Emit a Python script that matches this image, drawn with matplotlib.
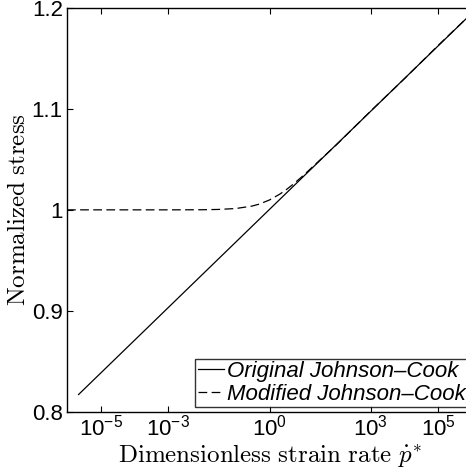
import matplotlib
matplotlib.use("Agg")
import matplotlib.pyplot as plt
import numpy as np

plt.rcParams["font.family"] = ["Liberation Sans", "DejaVu Sans"]
plt.rcParams["mathtext.fontset"] = "custom"
plt.rcParams["mathtext.rm"] = "Liberation Sans"
plt.rcParams["mathtext.it"] = "Liberation Sans:italic"

# data
p_orig = [2.2e-6, 1e6]
s_orig = [0.817, 1.195]

p_mod = [1e-6, 1e-3, 1e-2, 3e-2, 0.1, 0.3, 0.5, 1, 2, 3, 5, 10, 100, 1e3, 1e4, 1e5, 1e6]
s_mod = [1.000, 1.000, 1.0001, 1.0004, 1.0013, 1.0037, 1.0057, 1.0098, 1.0155,
         1.0195, 1.0253, 1.034, 1.065, 1.098, 1.130, 1.163, 1.195]

xticks = [1e-5, 1e-3, 1e0, 1e3, 1e5]
xticklabels = [r"$10^{-5}$", r"$10^{-3}$", r"$10^{0}$", r"$10^{3}$", r"$10^{5}$"]
yticks = [0.8, 0.9, 1.0, 1.1, 1.2]
yticklabels = ["0.8", "0.9", "1", "1.1", "1.2"]

fig = plt.figure(figsize=(4.66, 4.74), dpi=100)
ax = fig.add_axes([67 / 466, 1 - 411.7 / 474, 405 / 466, 403.7 / 474])

ax.plot(p_orig, s_orig, "k-", lw=0.9, label="Original Johnson\u2013Cook")
ax.plot(p_mod, s_mod, "k--", lw=0.9, dashes=(7, 3.5), label="Modified Johnson\u2013Cook")

ax.set_xscale("log")
ax.set_xlim(1e-6, 1e6)
ax.set_ylim(0.8, 1.2)
ax.set_xticks(xticks)
ax.set_xticklabels(xticklabels)
ax.minorticks_off()
ax.set_yticks(yticks)
ax.set_yticklabels(yticklabels)
ax.tick_params(direction="in", top=True, right=True, length=4, width=0.8, labelsize=16)
ax.tick_params(axis="y", pad=3)
ax.tick_params(axis="x", pad=2)
for s in ax.spines.values():
    s.set_linewidth(1.0)

ax.set_xlabel(r"$\mathrm{Dimensionless\ strain\ rate\ }\dot{p}^{*}$",
              fontsize=18, math_fontfamily="cm", labelpad=1)
ax.set_ylabel(r"$\mathrm{Normalized\ stress}$", fontsize=18,
              math_fontfamily="cm", labelpad=1)

leg = ax.legend(loc="lower right", fontsize=16, frameon=True, fancybox=False,
                edgecolor="black", handlelength=1.2, handletextpad=0.1,
                borderpad=0.1, labelspacing=0.1, borderaxespad=0.2)
leg.get_frame().set_linewidth(1.0)
for t in leg.get_texts():
    t.set_fontstyle("italic")

fig.savefig("out.png", dpi=100)
